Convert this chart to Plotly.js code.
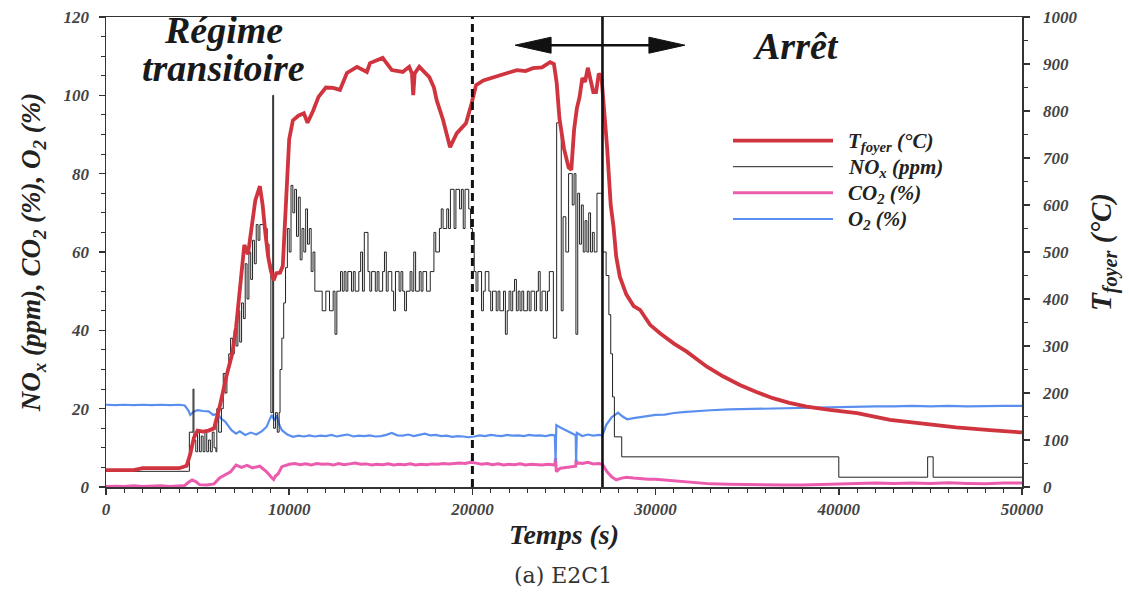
<!DOCTYPE html>
<html>
<head>
<meta charset="utf-8">
<script src="https://cdn.plot.ly/plotly-3.0.1.min.js"></script>
<style>
  html, body { margin: 0; padding: 0; background: #ffffff; }
  #chart { width: 1129px; height: 599px; }
</style>
</head>
<body>
<div id="chart"></div>
<script>
// ---------------- DATA ----------------
// Axis ticks
const xLabelVals = [0, 10000, 20000, 30000, 40000, 50000];
const xLabelText = ['0', '10000', '20000', '30000', '40000', '50000'];
const xMidVals = [5000, 15000, 25000, 35000, 45000];
const yLeftLabelVals = [0, 20, 40, 60, 80, 100, 120];
const yLeftLabelText = ['0', '20', '40', '60', '80', '100', '120'];
const yLeftMidVals = [10, 30, 50, 70, 90, 110];
const yRightTickVals = [0, 100, 200, 300, 400, 500, 600, 700, 800, 900, 1000];
const yRightTickText = ['0', '100', '200', '300', '400', '500', '600', '700', '800', '900', '1000'];

// Furnace temperature T_foyer (°C) - right axis
const tTemp = [0, 1500, 2000, 4000, 4400, 4600, 4800, 5000, 5300, 5600, 5900, 6200, 6600, 6900, 7100, 7300,
  7400, 7550, 7750, 7950, 8150, 8400, 8550, 8700, 8850, 9000, 9150, 9300, 9500, 9650, 9750, 9850,
  10000, 10200, 10500, 10800, 11000, 11300, 11600, 12000, 12400, 12770, 13150, 13700, 14240, 14410,
  15100, 15600, 16200, 16550, 16700, 16770, 16850, 17100, 17650, 17900, 18050, 18400, 18780, 19150,
  19650, 19950, 20200, 20600, 21120, 21600, 22000, 22430, 22900, 23300, 23800, 24240, 24450, 24600,
  24750, 25000, 25250, 25400, 25550, 25700, 25850, 26000, 26150, 26300, 26450, 26600, 26750, 26900,
  27050, 27200, 27350, 27550, 27700, 27850, 28050, 28400, 28800, 29150, 29700, 30240, 31000, 31700,
  32800, 33700, 34600, 35500, 36400, 37300, 38250, 39500, 41000, 42800, 44600, 46400, 48250, 50000];
const temp = [36, 36, 40, 40, 45, 70, 105, 120, 118, 120, 125, 170, 240, 285, 340, 425,
  470, 515, 495, 560, 610, 640, 600, 540, 490, 460, 440, 455, 456, 470, 560, 650,
  740, 780, 790, 795, 775, 800, 830, 850, 849, 845, 881, 894, 883, 902,
  913, 887, 883, 894, 880, 834, 880, 894, 872, 850, 823, 781, 723, 753,
  774, 815, 855, 865, 872, 878, 882, 887, 885, 891, 893, 904, 900, 860,
  785, 720, 680, 675, 760, 805, 830, 870, 862, 892, 865, 840, 840, 880,
  870, 800, 724, 600, 555, 490, 447, 410, 385, 377, 345, 327, 305, 288,
  256, 235, 217, 202, 189, 179, 171, 164, 157, 143, 134, 127, 121, 116];

// NOx (ppm) - left axis, step-wise signal
const tNox = [0, 4500, 4550, 4750, 4800, 4900, 5000, 5100, 5200, 5300, 5400, 5500, 5600, 5700, 5800, 5900,
  6000, 6050, 6150, 6300, 6400, 6500, 6600, 6700, 6800, 6900, 7000, 7100, 7200, 7300, 7400, 7500,
  7600, 7700, 7800, 7900, 8000, 8100, 8200, 8300, 8400, 8600, 8800, 8900, 9000, 9100, 9150, 9250,
  9350, 9450, 9500, 9600, 9700, 9800, 9900, 10000, 10100, 10200, 10300, 10400, 10500, 10600, 10700,
  10800, 10900, 11000, 11100, 11200, 11300, 11400, 11700, 11800, 12000, 12200, 12400, 12500, 12600,
  12800, 12900, 13000, 13100, 13200, 13400, 13500, 13600, 13800, 13900, 14000, 14100, 14300, 14400,
  14500, 14700, 14800, 14900, 15100, 15200, 15300, 15400, 15600, 15700, 15800, 16000, 16100, 16200,
  16300, 16400, 16600, 16700, 16800, 16900, 17100, 17200, 17300, 17500, 17700, 17900, 18000, 18200,
  18300, 18400, 18600, 18700, 18800, 19000, 19100, 19300, 19400, 19500, 19600, 19800, 19900, 20000,
  20100, 20200, 20300, 20500, 20600, 20700, 20900, 21000, 21100, 21300, 21400, 21500, 21700, 21800,
  21900, 22000, 22100, 22200, 22300, 22400, 22500, 22600, 22700, 22800, 23000, 23100, 23200, 23400,
  23500, 23600, 23700, 23800, 24000, 24100, 24200, 24300, 24420, 24600, 24850, 24950, 25100, 25250,
  25450, 25550, 25650, 25750, 25850, 25950, 26050, 26150, 26250, 26350, 26450, 26550, 26650, 26800,
  27000, 27100, 27300, 27450, 27550, 27650, 27750, 28150, 40000, 44850, 45150, 50000];
const nox = [4, 4, 14, 25, 12, 9, 14, 9, 13, 9, 14, 9, 12, 9, 14, 10,
  9, 20, 14, 20, 29, 24, 30, 34, 38, 34, 40, 36, 45, 37, 47, 43,
  57, 48, 60, 53, 63, 57, 67, 63, 67, 66, 62, 57, 19, 100, 15, 19,
  14, 19, 30, 38, 47, 56, 66, 60, 77, 70, 76, 64, 74, 58, 66,
  60, 71, 62, 66, 55, 60, 50, 50, 45, 50, 45, 50, 39, 50,
  55, 50, 55, 50, 55, 50, 55, 50, 55, 60, 50, 65, 55, 50,
  55, 50, 55, 50, 55, 60, 50, 55, 50, 45, 55, 50, 55, 50,
  45, 50, 55, 50, 60, 50, 55, 50, 55, 50, 55, 65, 60, 66,
  71, 66, 71, 66, 76, 66, 76, 71, 76, 66, 76, 71, 66, 65,
  55, 50, 55, 45, 50, 55, 50, 45, 50, 45, 50, 45, 50, 39,
  45, 50, 45, 50, 53, 45, 50, 45, 50, 45, 50, 45, 50, 45,
  50, 55, 45, 50, 45, 50, 55, 55, 38, 93, 45, 69, 60, 80,
  72, 80, 39, 75, 62, 72, 60, 68, 60, 70, 60, 65, 60, 75,
  75, 60, 54, 44, 34, 23, 12.8, 7.7, 2.5, 7.7, 2.5, 2.5];

// CO2 (%) - left axis
const tCo2 = [0, 500, 1000, 1500, 2000, 2500, 3000, 3500, 4000, 4300, 4500, 4700, 4900, 5100, 5500, 5900,
  6200, 6500, 6800, 7100, 7400, 7700, 8000, 8400, 8770, 9000, 9150, 9250, 9400, 9600, 10000, 10300,
  10600, 10900, 11200, 11500, 11800, 12100, 12400, 12700, 13000, 13300, 13600, 13900, 14200, 14500,
  14800, 15100, 15400, 15700, 16000, 16300, 16600, 16900, 17200, 17500, 17800, 18100, 18400, 18700,
  19000, 19300, 19600, 19900, 20200, 20500, 20800, 21100, 21400, 21700, 22000, 22300, 22600, 22900,
  23200, 23500, 23800, 24100, 24500, 24540, 24580, 24800, 25100, 25400, 25640, 25660, 25700, 26000,
  26300, 26600, 26900, 27100, 27350, 27600, 27850, 28100, 28400, 28800, 29200, 29600, 30000, 30500,
  31000, 31500, 32000, 32500, 33000, 34000, 35000, 36000, 37000, 38000, 39000, 40000, 41000, 42000,
  43000, 44000, 45000, 46000, 47000, 48000, 49000, 50000];
const co2 = [0.1, 0.2, 0.1, 0.3, 0.1, 0.2, 0.3, 0.1, 0.2, 0.4, 1.2, 1.8, 1.4, 0.6, 0.5, 0.8,
  2.3, 3.0, 3.9, 5.6, 5.0, 5.5, 4.9, 5.3, 3.9, 2.6, 1.9, 2.8, 3.4, 5.2, 5.8, 6.0,
  5.7, 5.9, 5.6, 6.0, 5.8, 5.9, 5.6, 6.0, 5.7, 5.9, 6.1, 5.8, 5.9, 5.6,
  5.8, 5.7, 5.9, 5.6, 5.8, 5.7, 5.9, 5.6, 5.8, 5.7, 5.9, 5.8, 6.0, 5.9,
  6.0, 6.1, 6.0, 6.3, 6.1, 5.8, 6.0, 5.7, 5.9, 5.6, 5.8, 5.7, 5.9, 5.6,
  5.8, 5.7, 5.6, 5.8, 5.6, 7.4, 3.9, 4.8, 5.0, 5.3, 5.3, 6.9, 6.2, 6.0,
  6.3, 5.9, 6.0, 5.8, 3.9, 2.6, 1.8, 2.2, 2.5, 2.3, 2.1, 2.0, 2.0, 1.8,
  1.5, 1.3, 1.1, 0.9, 0.8, 0.7, 0.6, 0.5, 0.5, 0.5, 0.6, 0.8, 0.9, 1.0,
  0.9, 1.0, 0.9, 1.1, 0.9, 0.8, 1.0, 1.0];

// O2 (%) - left axis
const tO2 = [0, 500, 1000, 1500, 2000, 2500, 3000, 3500, 4000, 4300, 4500, 4600, 4800, 5000, 5300, 5600,
  5850, 6100, 6250, 6500, 6850, 7100, 7300, 7600, 7900, 8200, 8500, 8770, 8950, 9050, 9200, 9320,
  9450, 9600, 9900, 10200, 10500, 10800, 11100, 11400, 11700, 12000, 12300, 12600, 12900, 13200,
  13500, 13800, 14100, 14400, 14700, 15000, 15300, 15600, 15900, 16200, 16500, 16800, 17100, 17400,
  17700, 18000, 18300, 18600, 18900, 19200, 19500, 19800, 20100, 20400, 20700, 21000, 21300, 21600,
  21900, 22200, 22500, 22800, 23100, 23400, 23700, 24000, 24300, 24500, 24540, 24580, 24800, 25100,
  25400, 25640, 25660, 25700, 26000, 26300, 26600, 26900, 27100, 27300, 27600, 27950, 28200, 28450,
  28800, 29200, 29600, 30000, 30500, 31000, 31500, 32000, 32500, 33000, 34000, 35000, 36000, 37000,
  38000, 39000, 40000, 41000, 42000, 43000, 44000, 45000, 46000, 47000, 48000, 49000, 50000];
const o2 = [21.0, 20.9, 21.0, 20.9, 21.0, 20.9, 21.0, 20.9, 21.0, 20.8, 19.5, 18.4, 19.3, 19.6, 19.4, 19.3,
  18.4, 18.7, 17.6, 16.7, 14.5, 13.6, 14.2, 13.3, 13.9, 13.4, 14.2, 15.4, 17.4, 18.4, 17.0, 18.3,
  16.0, 14.5, 13.4, 12.8, 13.1, 12.9, 13.2, 12.9, 13.1, 13.0, 13.3, 12.9, 13.2, 13.4,
  12.9, 13.1, 13.0, 13.2, 12.9, 13.0, 13.3, 13.8, 13.2, 13.1, 13.4, 13.0, 13.3, 13.6,
  13.2, 13.3, 13.0, 13.1, 12.8, 13.0, 12.9, 12.7, 12.9, 13.2, 13.0, 13.3, 13.1, 13.0,
  13.3, 13.1, 13.2, 13.0, 13.3, 13.1, 13.2, 13.0, 13.3, 13.2, 6.5, 15.8, 15.2, 14.5,
  13.6, 13.2, 6.5, 13.8, 13.0, 13.4, 13.1, 13.3, 13.2, 15.8, 17.8, 19.0, 18.0, 17.3,
  17.6, 17.9, 18.1, 18.4, 18.5, 18.9, 19.1, 19.3, 19.4, 19.6, 19.8, 19.9, 20.1, 20.2,
  20.3, 20.4, 20.5, 20.6, 20.6, 20.6, 20.7, 20.6, 20.7, 20.6, 20.7, 20.7, 20.7];

// Phase markers and labels
const phaseLimits = [20000, 27100];           // end of transient regime, shutdown
const arrowSpan = [22330, 31600];              // double arrow extent (s)
const arrowLevel = 112.8;                      // arrow height (left axis units)
const labelTransient = ['Régime', 'transitoire'];
const labelShutdown = 'Arrêt';
const seriesNames = ['T<sub>foyer</sub> (°C)', 'NO<sub>x</sub> (ppm)', 'CO<sub>2</sub> (%)', 'O<sub>2</sub> (%)'];
const xTitle = 'Temps (s)';
const yTitle = 'NO<sub>x</sub> (ppm), CO<sub>2</sub> (%), O<sub>2</sub> (%)';
const y2Title = 'T<sub>foyer</sub> (°C)';
const caption = '(a) E2C1';

// ---------------- STYLE ----------------
const C_RED = '#d0343f', C_BLACK = '#222222', C_PINK = '#ec5cae', C_BLUE = '#5a8ff0';
const AX = '#333333';
const SERIF = '"Liberation Serif", "Times New Roman", serif';
const tickFont = { family: SERIF, size: 17, color: '#444444', weight: 'bold', style: 'italic' };
const titleFont = { family: SERIF, size: 27, color: '#222222', weight: 'bold', style: 'italic' };

const W = 1129, H = 599;
const M = { l: 106, r: 107, t: 17, b: 112 };
const PW = W - M.l - M.r, PH = H - M.t - M.b;

const traces = [
  { x: tTemp, y: temp, name: seriesNames[0], type: 'scatter', mode: 'lines', yaxis: 'y2',
    line: { color: C_RED, width: 3.8 }, showlegend: false, hoverinfo: 'skip' },
  { x: tCo2, y: co2, name: seriesNames[2], type: 'scatter', mode: 'lines',
    line: { color: C_PINK, width: 3 }, showlegend: false, hoverinfo: 'skip' },
  { x: tO2, y: o2, name: seriesNames[3], type: 'scatter', mode: 'lines',
    line: { color: C_BLUE, width: 2.2 }, showlegend: false, hoverinfo: 'skip' },
  { x: tNox, y: nox, name: seriesNames[1], type: 'scatter', mode: 'lines',
    line: { color: C_BLACK, width: 1, shape: 'hv' }, showlegend: false, hoverinfo: 'skip' }
];

const xRange = [0, 50000], yRange = [0, 120], y2Range = [0, 1000];

function baseAxis(extra) {
  return Object.assign({
    showgrid: false, zeroline: false, fixedrange: true,
    tickcolor: AX, tickwidth: 1.5, ticklen: 6, tickfont: tickFont
  }, extra);
}
function tickOnly(range, over, side, vals, dir, minorDtick) {
  const a = baseAxis({
    range: range, overlaying: over, anchor: 'x', side: side, showline: false,
    ticks: dir, tickmode: 'array', tickvals: vals, showticklabels: false
  });
  if (minorDtick) a.minor = { ticks: dir, tickmode: 'linear', tick0: 0, dtick: minorDtick, ticklen: 4, tickcolor: AX, tickwidth: 1 };
  return a;
}

// arrow head geometry (px -> data units)
const headLen = 36 * (xRange[1] - xRange[0]) / PW;
const headHalf = 8 * (yRange[1] - yRange[0]) / PH;
const aL = arrowSpan[0], aR = arrowSpan[1];

const shapes = [
  { type: 'line', xref: 'x', yref: 'paper', x0: phaseLimits[0], x1: phaseLimits[0], y0: 0, y1: 1,
    line: { color: '#111', width: 3, dash: '8px,5px' } },
  { type: 'line', xref: 'x', yref: 'paper', x0: phaseLimits[1], x1: phaseLimits[1], y0: 0, y1: 1,
    line: { color: '#111', width: 2.6 } },
  { type: 'line', xref: 'x', yref: 'y', x0: aL + headLen * 0.9, x1: aR - headLen * 0.9, y0: arrowLevel, y1: arrowLevel,
    line: { color: '#111', width: 2.6 } },
  { type: 'path', xref: 'x', yref: 'y', fillcolor: '#111', line: { color: '#111', width: 1 },
    path: `M${aL},${arrowLevel} L${aL + headLen},${arrowLevel + headHalf} L${aL + headLen},${arrowLevel - headHalf} Z` },
  { type: 'path', xref: 'x', yref: 'y', fillcolor: '#111', line: { color: '#111', width: 1 },
    path: `M${aR},${arrowLevel} L${aR - headLen},${arrowLevel + headHalf} L${aR - headLen},${arrowLevel - headHalf} Z` }
];

// manual legend (paper coordinates)
const legendColors = [C_RED, C_BLACK, C_PINK, C_BLUE];
const legendWidths = [3.8, 1, 3, 2.2];
const legendRowsPx = [140.7, 166.7, 192.7, 219];
const px2px = v => (v - M.l) / PW;
const py2py = v => (H - M.b - v) / PH;
const annotations = [];
legendRowsPx.forEach((ry, i) => {
  shapes.push({ type: 'line', xref: 'paper', yref: 'paper', x0: px2px(733), x1: px2px(833),
    y0: py2py(ry), y1: py2py(ry), line: { color: legendColors[i], width: legendWidths[i] } });
  annotations.push({ xref: 'paper', yref: 'paper', x: px2px(846), y: py2py(ry + 1), xanchor: 'left', yanchor: 'middle',
    text: seriesNames[i], showarrow: false,
    font: { family: SERIF, size: 21, color: '#222', weight: 'bold', style: 'italic' } });
});

const bigFont = { family: SERIF, size: 38, color: '#1a1a1a', weight: 'bold', style: 'italic' };
annotations.push(
  { xref: 'paper', yref: 'paper', x: px2px(223), y: py2py(30), xanchor: 'center', yanchor: 'middle',
    text: labelTransient[0], showarrow: false, font: bigFont },
  { xref: 'paper', yref: 'paper', x: px2px(223), y: py2py(68), xanchor: 'center', yanchor: 'middle',
    text: labelTransient[1], showarrow: false, font: bigFont },
  { xref: 'paper', yref: 'paper', x: px2px(796), y: py2py(46), xanchor: 'center', yanchor: 'middle',
    text: labelShutdown, showarrow: false, font: bigFont },
  { xref: 'paper', yref: 'paper', x: px2px(563), y: py2py(575), xanchor: 'center', yanchor: 'middle',
    text: caption, showarrow: false,
    font: { family: '"DejaVu Serif", serif', size: 22, color: '#333' } }
);

const layout = {
  width: W, height: H,
  margin: M,
  paper_bgcolor: '#ffffff', plot_bgcolor: '#ffffff',
  showlegend: false,
  xaxis: baseAxis({
    range: xRange, anchor: 'y', showline: true, linecolor: AX, linewidth: 1.5, mirror: true,
    ticks: 'outside', tickmode: 'array', tickvals: xLabelVals, ticktext: xLabelText,
    minor: { ticks: 'outside', tickmode: 'linear', tick0: 0, dtick: 1000, ticklen: 4, tickcolor: AX, tickwidth: 1 },
    title: { text: xTitle, font: Object.assign({}, titleFont, { size: 28 }), standoff: 6 }
  }),
  xaxis2: baseAxis({
    range: xRange, overlaying: 'x', anchor: 'y', side: 'bottom', showline: false,
    ticks: 'inside', tickmode: 'array', tickvals: xLabelVals.concat(xMidVals), showticklabels: false,
    minor: { ticks: 'inside', tickmode: 'linear', tick0: 0, dtick: 1000, ticklen: 4, tickcolor: AX, tickwidth: 1 }
  }),
  xaxis3: baseAxis({
    range: xRange, overlaying: 'x', anchor: 'y', side: 'bottom', showline: false,
    ticks: 'outside', tickmode: 'array', tickvals: xMidVals, showticklabels: false
  }),
  yaxis: baseAxis({
    range: yRange, anchor: 'x', showline: true, linecolor: AX, linewidth: 1.5,
    ticks: 'outside', tickmode: 'array', tickvals: yLeftLabelVals, ticktext: yLeftLabelText,
    ticklabelstandoff: 6,
    minor: { ticks: 'outside', tickmode: 'linear', tick0: 0, dtick: 5, ticklen: 4, tickcolor: AX, tickwidth: 1 },
    title: { text: yTitle, font: titleFont, standoff: 15 }
  }),
  yaxis3: tickOnly(yRange, 'y', 'left', yLeftLabelVals.concat(yLeftMidVals), 'inside', 5),
  yaxis5: tickOnly(yRange, 'y', 'left', yLeftMidVals, 'outside', 0),
  yaxis2: baseAxis({
    range: y2Range, overlaying: 'y', anchor: 'x', side: 'right', showline: true, linecolor: AX, linewidth: 1.5,
    ticks: 'outside', tickmode: 'array', tickvals: yRightTickVals, ticktext: yRightTickText,
    ticklabelstandoff: 10,
    minor: { ticks: 'outside', tickmode: 'linear', tick0: 0, dtick: 50, ticklen: 4, tickcolor: AX, tickwidth: 1 },
    title: { text: y2Title, font: Object.assign({}, titleFont, { size: 29 }), standoff: 14 }
  }),
  yaxis4: tickOnly(y2Range, 'y', 'right', yRightTickVals, 'inside', 50),
  shapes: shapes,
  annotations: annotations
};

Plotly.newPlot('chart', traces, layout, { staticPlot: true, displayModeBar: false });
</script>
</body>
</html>
